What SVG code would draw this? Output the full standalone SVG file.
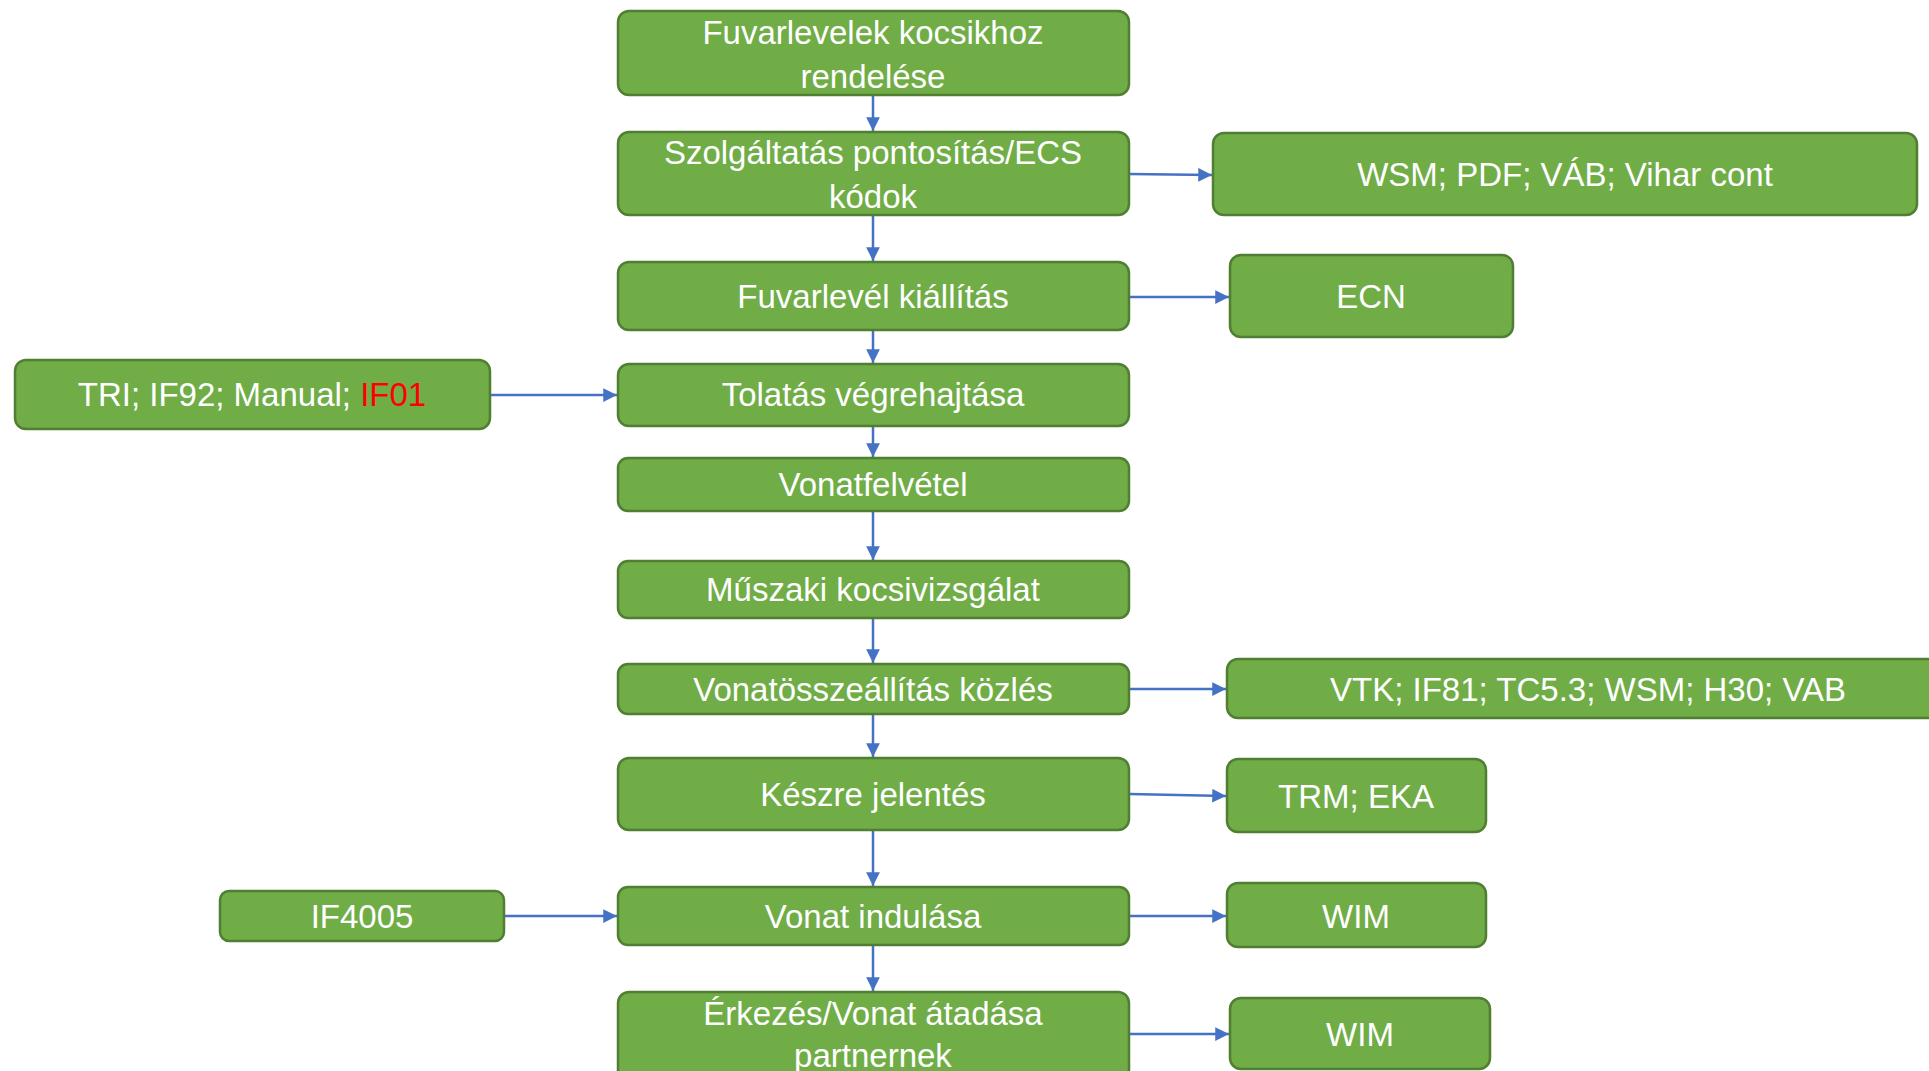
<svg xmlns="http://www.w3.org/2000/svg" width="1929" height="1071" viewBox="0 0 1929 1071">
<style>
.n rect{fill:#70AD47;stroke:#507E32;stroke-width:2.5}
.n text{font-family:"Liberation Sans",Arial,sans-serif;font-size:33px;fill:#ffffff;text-anchor:middle}
.c line{stroke:#4472C4;stroke-width:2.5;fill:none}
</style>
<defs>
<marker id="ah" viewBox="0 0 10 10" refX="10" refY="5" markerWidth="5.5" markerHeight="5.5" orient="auto" markerUnits="strokeWidth">
<path d="M0,0 L10,5 L0,10 z" fill="#4472C4"/>
</marker>
</defs>
<rect width="1929" height="1071" fill="#ffffff"/>
<g class="c" id="connectors">
<line x1="873" y1="95" x2="873" y2="131" marker-end="url(#ah)"/>
<line x1="873" y1="215" x2="873" y2="261" marker-end="url(#ah)"/>
<line x1="873" y1="330" x2="873" y2="363" marker-end="url(#ah)"/>
<line x1="873" y1="426" x2="873" y2="457" marker-end="url(#ah)"/>
<line x1="873" y1="511" x2="873" y2="560" marker-end="url(#ah)"/>
<line x1="873" y1="618" x2="873" y2="663" marker-end="url(#ah)"/>
<line x1="873" y1="714" x2="873" y2="757" marker-end="url(#ah)"/>
<line x1="873" y1="830" x2="873" y2="886" marker-end="url(#ah)"/>
<line x1="873" y1="945" x2="873" y2="991" marker-end="url(#ah)"/>
<line x1="1129" y1="174" x2="1212" y2="175" marker-end="url(#ah)"/>
<line x1="1129" y1="297" x2="1229" y2="297" marker-end="url(#ah)"/>
<line x1="490" y1="395" x2="617" y2="395" marker-end="url(#ah)"/>
<line x1="1129" y1="689" x2="1226" y2="689" marker-end="url(#ah)"/>
<line x1="1129" y1="794" x2="1226" y2="796" marker-end="url(#ah)"/>
<line x1="504" y1="916" x2="617" y2="916" marker-end="url(#ah)"/>
<line x1="1129" y1="916" x2="1226" y2="916" marker-end="url(#ah)"/>
<line x1="1129" y1="1034" x2="1229" y2="1034" marker-end="url(#ah)"/>
</g>
<g class="n" id="n1"><rect x="618" y="11" width="511" height="84" rx="11"/><text x="873" y="44">Fuvarlevelek kocsikhoz</text><text x="873" y="88">rendelése</text></g>
<g class="n" id="n2"><rect x="618" y="132" width="511" height="83" rx="11"/><text x="873" y="164">Szolgáltatás pontosítás/ECS</text><text x="873" y="208">kódok</text></g>
<g class="n" id="n2r"><rect x="1213" y="133" width="704" height="82" rx="11"/><text x="1565" y="186">WSM; PDF; VÁB; Vihar cont</text></g>
<g class="n" id="n3"><rect x="618" y="262" width="511" height="68" rx="11"/><text x="873" y="308">Fuvarlevél kiállítás</text></g>
<g class="n" id="n3r"><rect x="1230" y="255" width="283" height="82" rx="11"/><text x="1371" y="308">ECN</text></g>
<g class="n" id="n4l"><rect x="15" y="360" width="475" height="69" rx="11"/><text x="252" y="406">TRI; IF92; Manual; <tspan fill="#FF0000">IF01</tspan></text></g>
<g class="n" id="n4"><rect x="618" y="364" width="511" height="62" rx="11"/><text x="873" y="406">Tolatás végrehajtása</text></g>
<g class="n" id="n5"><rect x="618" y="458" width="511" height="53" rx="10"/><text x="873" y="496">Vonatfelvétel</text></g>
<g class="n" id="n6"><rect x="618" y="561" width="511" height="57" rx="10"/><text x="873" y="601">Műszaki kocsivizsgálat</text></g>
<g class="n" id="n7"><rect x="618" y="664" width="511" height="50" rx="10"/><text x="873" y="701">Vonatösszeállítás közlés</text></g>
<g class="n" id="n7r"><rect x="1227" y="659" width="720" height="59" rx="11"/><text x="1588" y="701">VTK; IF81; TC5.3; WSM; H30; VAB</text></g>
<g class="n" id="n8"><rect x="618" y="758" width="511" height="72" rx="11"/><text x="873" y="806">Készre jelentés</text></g>
<g class="n" id="n8r"><rect x="1227" y="759" width="259" height="73" rx="11"/><text x="1356" y="808">TRM; EKA</text></g>
<g class="n" id="n9l"><rect x="220" y="891" width="284" height="50" rx="9"/><text x="362" y="928">IF4005</text></g>
<g class="n" id="n9"><rect x="618" y="887" width="511" height="58" rx="10"/><text x="873" y="928">Vonat indulása</text></g>
<g class="n" id="n9r"><rect x="1227" y="883" width="259" height="64" rx="11"/><text x="1356" y="928">WIM</text></g>
<g class="n" id="n10"><rect x="618" y="992" width="511" height="90" rx="11"/><text x="873" y="1025">Érkezés/Vonat átadása</text><text x="873" y="1067">partnernek</text></g>
<g class="n" id="n10r"><rect x="1230" y="998" width="260" height="71" rx="11"/><text x="1360" y="1046">WIM</text></g>
</svg>
